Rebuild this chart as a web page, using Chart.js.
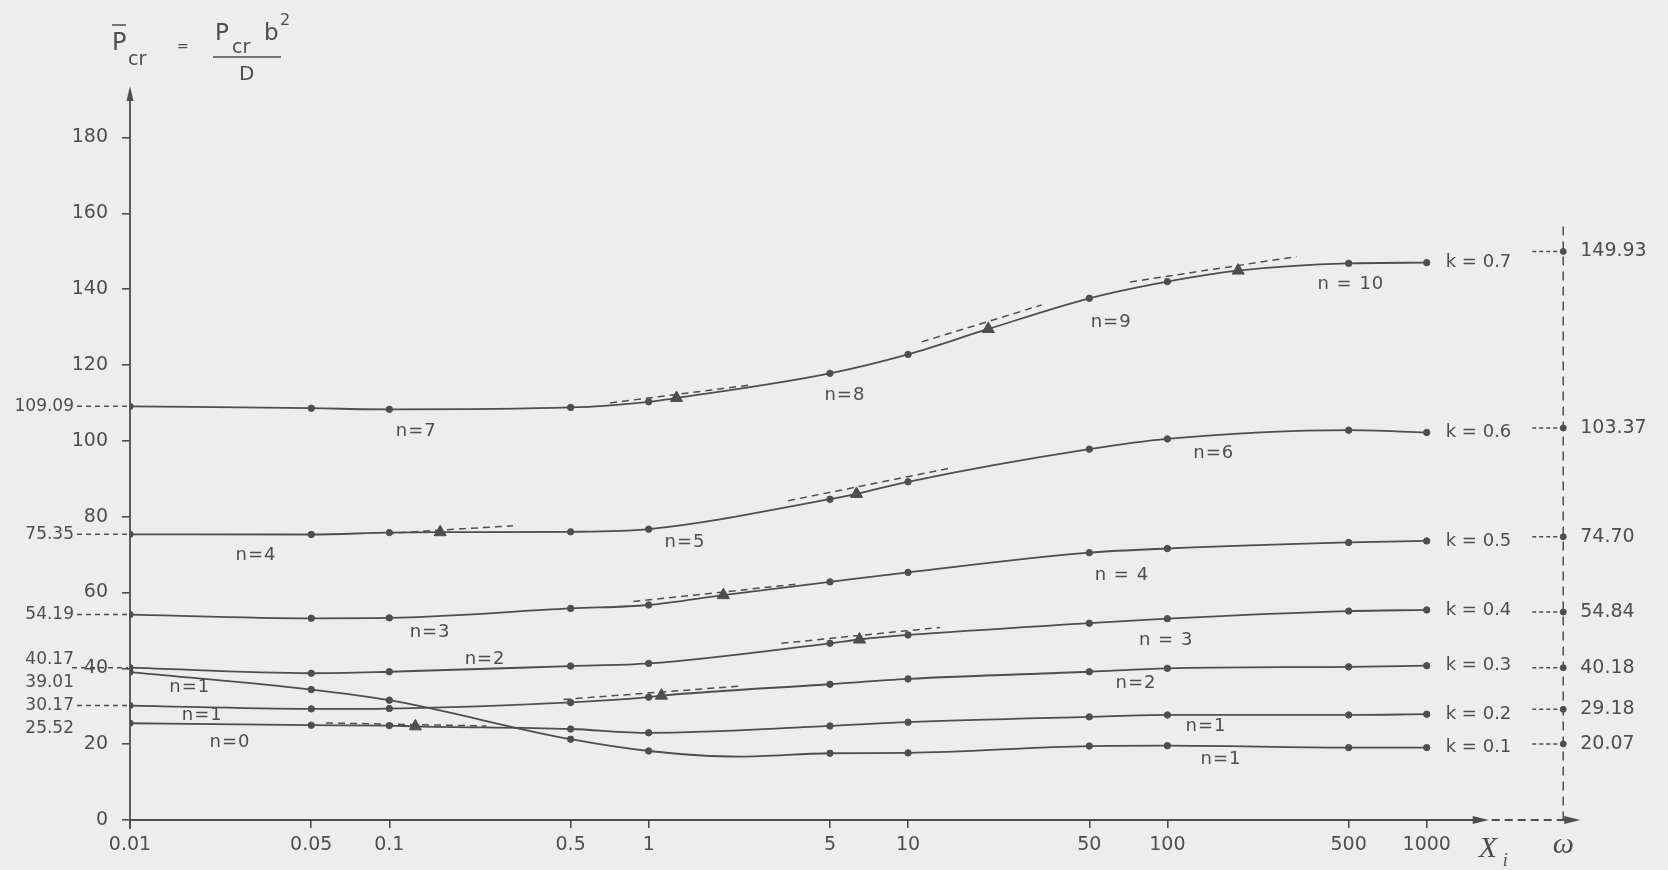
<!DOCTYPE html>
<html>
<head>
<meta charset="utf-8">
<title>Pcr against Xi</title>
<script src="https://cdn.jsdelivr.net/npm/chart.js@4.4.1/dist/chart.umd.min.js"></script>
<style>
  body { margin: 0; background: #ededed; }
  canvas { display: block; }
</style>
</head>
<body>
<canvas id="chart" width="1668" height="870"></canvas>
<script>
// ===============================
// DATA
// ===============================
const xPoints = [0.01, 0.05, 0.1, 0.5, 1, 5, 10, 50, 100, 500, 1000];
const xTickLabels = ["0.01", "0.05", "0.1", "0.5", "1", "5", "10", "50", "100", "500", "1000"];
const yTicks = [0, 20, 40, 60, 80, 100, 120, 140, 160, 180];

const kLabels = ["k = 0.7", "k = 0.6", "k = 0.5", "k = 0.4", "k = 0.3", "k = 0.2", "k = 0.1"];

// P̄cr at every xPoints value, one array per k
const k07 = [109.09, 108.6, 108.3, 108.8, 110.3, 117.8, 122.8, 137.6, 142.0, 146.8, 147.0];
const k06 = [75.35, 75.3, 75.8, 76.0, 76.7, 84.6, 89.2, 97.8, 100.5, 102.8, 102.2];
const k05 = [54.19, 53.2, 53.3, 55.8, 56.7, 62.8, 65.3, 70.5, 71.6, 73.2, 73.6];
const k04 = [40.17, 38.7, 39.1, 40.6, 41.3, 46.6, 48.8, 51.9, 53.1, 55.1, 55.4];
const k03 = [30.17, 29.3, 29.4, 31.0, 32.4, 35.8, 37.2, 39.1, 40.0, 40.4, 40.7];
const k02 = [25.52, 25.0, 24.9, 24.0, 23.0, 24.8, 25.8, 27.2, 27.7, 27.7, 27.9];
const k01 = [39.01, 34.4, 31.6, 21.3, 18.2, 17.6, 17.7, 19.5, 19.6, 19.1, 19.1];

// mode change points (triangles)
const tri07x = [1.28, 20.4, 187.5], tri07y = [111.3, 129.5, 144.9];
const tri06x = [0.157, 6.33], tri06y = [75.9, 86.0];
const tri05x = [1.94], tri05y = [59.3];
const tri04x = [6.5], tri04y = [47.6];
const tri03x = [1.12], tri03y = [32.8];
const tri02x = [0.126], tri02y = [24.7];
const tri01x = [], tri01y = [];

// lowest point of the k = 0.1 curve (no marker there)
const low01x = [2.25], low01y = [16.7];

// dashed tangents at the triangles: [x1, y1, x2, y2]
const tan07 = [[0.71, 110.0, 2.52, 114.8], [11.3, 126.1, 32.7, 135.8], [71.8, 141.9, 315, 148.6]];
const tan06 = [[0.098, 75.6, 0.30, 77.6], [3.45, 84.2, 14.3, 92.7]];
const tan05 = [[0.872, 57.6, 3.72, 62.2]];
const tan04 = [[3.25, 46.6, 13.3, 50.8]];
const tan03 = [[0.47, 31.8, 2.25, 35.3]];
const tan02 = [[0.057, 25.6, 0.237, 24.8]];

// limit values at X = ω
const omegaValues = [149.93, 103.37, 74.70, 54.84, 40.18, 29.18, 20.07];
const omegaLabels = ["149.93", "103.37", "74.70", "54.84", "40.18", "29.18", "20.07"];

// values written at the start of each curve (same order as kLabels)
const startLabels = ["109.09", "75.35", "54.19", "40.17", "30.17", "25.52", "39.01"];

// buckling mode labels
const nText = ["n=7", "n=8", "n=9", "n = 10", "n=4", "n=5", "n=6", "n=3", "n = 4", "n=2", "n = 3", "n=1", "n=1", "n=0", "n=2", "n=1", "n=1"];
const nX = [0.127, 5.71, 60.7, 510, 0.0306, 1.38, 151, 0.1436, 66.8, 0.234, 98.9, 0.0170, 0.0190, 0.0243, 75.7, 141, 161];
const nY = [102.4, 111.9, 131.2, 141.3, 69.9, 73.2, 96.7, 49.4, 64.6, 42.4, 47.5, 35.0, 27.7, 20.6, 36.0, 24.6, 16.0];

// ===============================
// STYLE
// ===============================
const ink = "#4e4e4e";
const paper = "#ededed";
const sans = '"DejaVu Sans", sans-serif';
const serif = '"Liberation Serif", "DejaVu Serif", serif';
const omegaAt = 3360;      // where the ω column sits on the log axis
const xMax = 5000;
const yMax = 192;
const markSize = { dot: 3.2, tri: 7, none: 0 };
const startOffsets = [0, 0, 0, -8, 0, 5, 10];   // nudges so 40.17 / 39.01 don't collide

// ===============================
// DATASETS
// ===============================
function buildCurve(vals, tx, ty, mx, my) {
    const pts = xPoints.map((x, i) => ({ x: x, y: vals[i], m: "dot" }));
    tx.forEach((x, i) => pts.push({ x: x, y: ty[i], m: "tri" }));
    mx.forEach((x, i) => pts.push({ x: x, y: my[i], m: "none" }));
    return pts.sort((a, b) => a.x - b.x);
}

const curves = [
    [k07, tri07x, tri07y, [], []],
    [k06, tri06x, tri06y, [], []],
    [k05, tri05x, tri05y, [], []],
    [k04, tri04x, tri04y, [], []],
    [k03, tri03x, tri03y, [], []],
    [k02, tri02x, tri02y, [], []],
    [k01, tri01x, tri01y, low01x, low01y]
];
const tangents = [].concat(tan07, tan06, tan05, tan04, tan03, tan02);

const datasets = [];

tangents.forEach(t => {
    datasets.push({
        data: [{ x: t[0], y: t[1] }, { x: t[2], y: t[3] }],
        borderColor: ink,
        borderWidth: 1.5,
        borderDash: [7, 5],
        pointRadius: 0,
        tension: 0
    });
});

curves.forEach(c => {
    datasets.push({
        data: buildCurve(c[0], c[1], c[2], c[3], c[4]),
        borderColor: ink,
        borderWidth: 1.8,
        cubicInterpolationMode: "monotone",
        pointStyle: ctx => (ctx.raw && ctx.raw.m === "tri") ? "triangle" : "circle",
        pointRadius: ctx => ctx.raw ? markSize[ctx.raw.m] : 0,
        pointBackgroundColor: ink,
        pointBorderColor: ink,
        pointBorderWidth: 1
    });
});

datasets.push({
    data: omegaValues.map(v => ({ x: omegaAt, y: v })),
    showLine: false,
    pointRadius: 3,
    pointBackgroundColor: ink,
    pointBorderColor: ink
});

// ===============================
// DRAWING HELPERS
// ===============================
function seg(c, x1, y1, x2, y2, dash) {
    c.setLineDash(dash || []);
    c.beginPath();
    c.moveTo(x1, y1);
    c.lineTo(x2, y2);
    c.stroke();
    c.setLineDash([]);
}

function arrowHead(c, x, y, dx, dy, len, half) {
    c.beginPath();
    c.moveTo(x, y);
    c.lineTo(x - dx * len - dy * half, y - dy * len + dx * half);
    c.lineTo(x - dx * len + dy * half, y - dy * len - dx * half);
    c.closePath();
    c.fill();
}

function write(c, s, x, y, size, align, base, family, style) {
    c.font = (style ? style + " " : "") + size + "px " + (family || sans);
    c.textAlign = align || "left";
    c.textBaseline = base || "middle";
    c.fillText(s, x, y);
}

const paperPlugin = {
    id: "paper",
    beforeDraw(chart) {
        const c = chart.ctx;
        c.save();
        c.fillStyle = paper;
        c.fillRect(0, 0, chart.width, chart.height);
        c.restore();
    }
};

const decorPlugin = {
    id: "decor",
    afterDraw(chart) {
        const c = chart.ctx;
        const xs = chart.scales.x, ys = chart.scales.y;
        const left = xs.getPixelForValue(0.01);
        const bottom = ys.getPixelForValue(0);
        const px1000 = xs.getPixelForValue(1000);
        const pxW = xs.getPixelForValue(omegaAt);

        c.save();
        c.strokeStyle = ink;
        c.fillStyle = ink;
        c.lineWidth = 1.8;

        // axes
        seg(c, left, bottom + 9, left, ys.top + 2);
        arrowHead(c, left, ys.top - 6, 0, -1, 15, 3.5);
        const xEnd = px1000 + 62;
        seg(c, left, bottom, xEnd - 8, bottom);
        arrowHead(c, xEnd, bottom, 1, 0, 16, 4);
        seg(c, xEnd + 3, bottom, pxW + 3, bottom, [8, 5]);
        arrowHead(c, pxW + 17, bottom, 1, 0, 16, 4);

        // ω column
        c.lineWidth = 1.5;
        seg(c, pxW, ys.getPixelForValue(156.5), pxW, bottom, [9, 6]);

        // left start values with leaders
        curves.forEach((cv, i) => {
            const y = ys.getPixelForValue(cv[0][0]);
            write(c, startLabels[i], 74, y + startOffsets[i], 17, "right");
            if (startOffsets[i] === 0) seg(c, 77, y, left - 2, y, [5, 4]);
        });
        seg(c, 72, ys.getPixelForValue(k04[0]), left - 2, ys.getPixelForValue(k04[0]), [5, 4]);

        // k labels, leaders and limit values
        curves.forEach((cv, i) => {
            const yk = ys.getPixelForValue(cv[0][cv[0].length - 1]);
            write(c, kLabels[i], px1000 + 19, yk, 18, "left");
            const yw = ys.getPixelForValue(omegaValues[i]);
            seg(c, pxW - 31, yw, pxW - 4, yw, [4, 3]);
            write(c, omegaLabels[i], pxW + 17, yw, 19, "left");
        });

        // mode labels
        c.letterSpacing = "1px";
        nText.forEach((s, i) => {
            write(c, s, xs.getPixelForValue(nX[i]), ys.getPixelForValue(nY[i]), 18, "center");
        });
        c.letterSpacing = "0px";

        // axis names
        write(c, "X", px1000 + 52, 857, 30, "left", "alphabetic", serif, "italic");
        write(c, "i", px1000 + 76, 866, 18, "left", "alphabetic", serif, "italic");
        write(c, "ω", pxW, 853, 30, "center", "alphabetic", serif, "italic");

        // formula  P̄cr = Pcr b² / D
        write(c, "P", 112, 50, 24, "left", "alphabetic");
        seg(c, 112, 25, 126, 25);
        write(c, "cr", 128, 65, 19, "left", "alphabetic");
        write(c, "=", 177, 51, 14, "left", "alphabetic");
        write(c, "P", 215, 40, 23, "left", "alphabetic");
        write(c, "cr", 232, 53, 19, "left", "alphabetic");
        write(c, "b", 264, 40, 23, "left", "alphabetic");
        write(c, "2", 280, 25, 16, "left", "alphabetic");
        seg(c, 213, 57, 281, 57);
        write(c, "D", 239, 80, 20, "left", "alphabetic");

        c.restore();
    }
};

// ===============================
// CHART
// ===============================
new Chart(document.getElementById("chart"), {
    type: "line",
    data: { datasets: datasets },
    options: {
        responsive: false,
        animation: false,
        devicePixelRatio: 1,
        events: [],
        layout: { padding: { left: 0, right: 60, top: 92, bottom: 0 } },
        plugins: {
            legend: { display: false },
            tooltip: { enabled: false }
        },
        scales: {
            x: {
                type: "logarithmic",
                min: 0.01,
                max: xMax,
                afterFit: s => { s.height = 50; },
                afterBuildTicks: s => { s.ticks = xPoints.map(v => ({ value: v })); },
                ticks: {
                    callback: (v, i) => xTickLabels[i],
                    color: ink,
                    font: { family: sans, size: 19 },
                    padding: 6,
                    maxRotation: 0,
                    autoSkip: false
                },
                grid: { drawOnChartArea: false, drawTicks: true, tickLength: 8, color: ink, lineWidth: 1.6 },
                border: { display: false }
            },
            y: {
                min: 0,
                max: yMax,
                afterFit: s => { s.width = 130; },
                afterBuildTicks: s => { s.ticks = yTicks.map(v => ({ value: v })); },
                ticks: {
                    color: ink,
                    font: { family: sans, size: 19 },
                    padding: 14
                },
                grid: { drawOnChartArea: false, drawTicks: true, tickLength: 8, color: ink, lineWidth: 1.6 },
                border: { display: false }
            }
        }
    },
    plugins: [paperPlugin, decorPlugin]
});
</script>
</body>
</html>
